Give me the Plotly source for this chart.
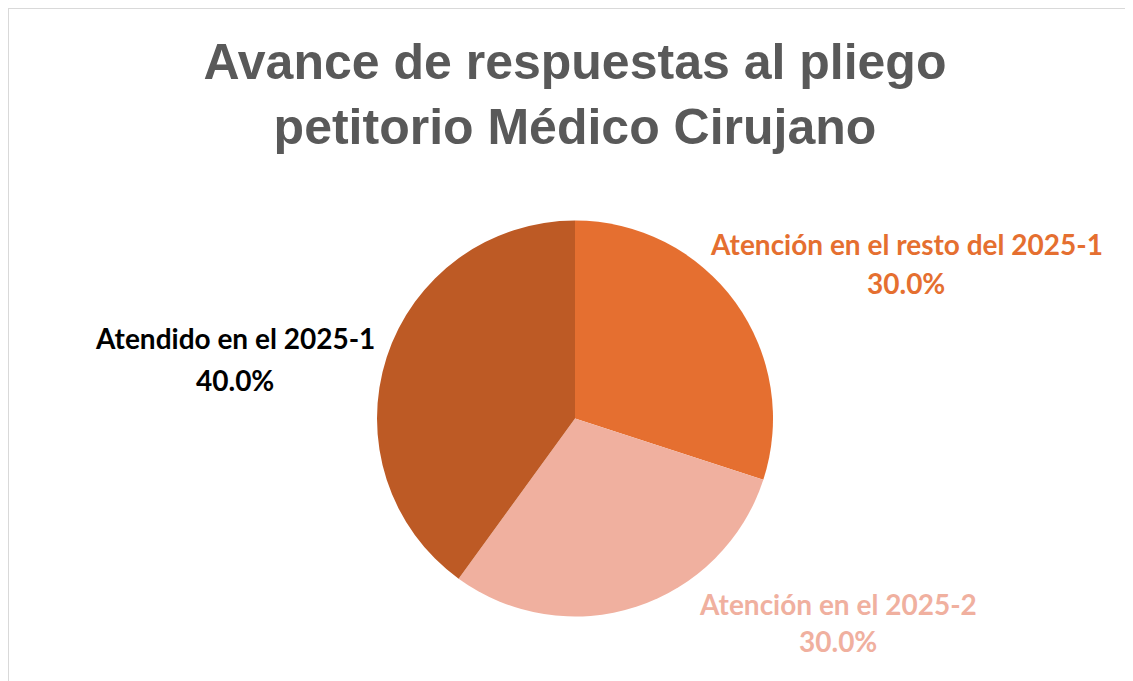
import plotly.graph_objects as go

labels = ["Atención en el resto del 2025-1", "Atención en el 2025-2", "Atendido en el 2025-1"]
values = [30, 30, 40]
slice_colors = ["#E56F30", "#F0B09F", "#BD5A25"]
label_colors = ["#E56F30", "#F0B09F", "#000000"]

W, H = 1133, 681
OFF = 8  # page body margin

def px(x):
    return (x - OFF) / W

def py(y):
    return 1 - (y - OFF) / H

fig = go.Figure(go.Pie(
    labels=labels,
    values=values,
    sort=False,
    direction="clockwise",
    rotation=0,
    textinfo="none",
    hoverinfo="label+percent",
    marker=dict(colors=slice_colors, line=dict(width=0)),
    domain=dict(x=[px(377), px(773)], y=[py(617), py(220)]),
    showlegend=False,
))

# label line centres in the picture: (x, y line 1, y line 2)
label_pos = [(906, 244, 283), (838, 604, 641), (235, 338, 380)]
total = sum(values)
for lab, val, col, (lx, ly1, ly2) in zip(labels, values, label_colors, label_pos):
    for txt, ly in [(lab, ly1), (f"{100 * val / total:.1f}%", ly2)]:
        fig.add_annotation(
            x=px(lx), y=py(ly), xref="paper", yref="paper",
            xanchor="center", yanchor="middle",
            text=f"<b>{txt}</b>", showarrow=False,
            font=dict(family="Lato", size=28, color=col),
        )

# frame: only top and left edges are visible in the picture
border = dict(color="#D9D9D9", width=2)
fig.add_shape(type="line", xref="paper", yref="paper", x0=0, x1=1.05, y0=1, y1=1, line=border)
fig.add_shape(type="line", xref="paper", yref="paper", x0=0, x1=0, y0=-0.05, y1=1, line=border)

fig.update_layout(
    width=W, height=H,
    title=dict(
        text="<b>Avance de respuestas al pliego<br>petitorio Médico Cirujano</b>",
        x=px(575), xanchor="center", y=py(79), yanchor="middle",
        font=dict(family="Liberation Sans", size=50, color="#595959"),
    ),
    paper_bgcolor="white",
    plot_bgcolor="white",
    margin=dict(l=0, r=0, t=0, b=0),
)

fig.write_html("out.html")
